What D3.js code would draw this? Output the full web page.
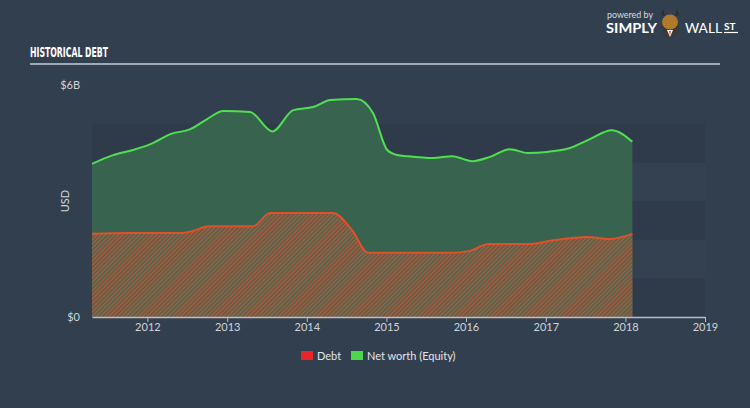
<!DOCTYPE html>
<html><head><meta charset="utf-8">
<script src="https://cdn.jsdelivr.net/npm/d3@7"></script>
<style>
html,body{margin:0;padding:0;background:#323f4f;}
svg{display:block;}
</style></head>
<body>
<svg id="c" width="750" height="408"></svg>
<script>
// ---- data ----
const equityDates = ["2011-04-22","2011-07-24","2011-10-27","2012-01-15","2012-04-16","2012-07-16","2012-10-01","2012-12-14","2013-04-16","2013-07-27","2013-10-31","2014-01-30","2014-04-20","2014-08-18","2014-11-01","2015-01-05","2015-02-20","2015-04-05","2015-08-03","2015-10-30","2016-01-30","2016-04-20","2016-07-20","2016-10-11","2017-01-07","2017-04-22","2017-07-22","2017-10-30","2018-02-02"];
const equityValues = [3.96,4.18,4.32,4.47,4.73,4.86,5.12,5.33,5.30,4.80,5.35,5.43,5.61,5.64,5.27,4.32,4.19,4.16,4.11,4.16,4.03,4.14,4.34,4.24,4.27,4.37,4.60,4.83,4.53];
const debtDates = ["2011-04-22","2011-10-01","2012-05-30","2012-07-24","2012-10-08","2013-05-01","2013-07-16","2014-05-01","2014-07-27","2014-10-09","2015-10-30","2016-01-19","2016-04-12","2016-10-22","2017-01-22","2017-07-09","2017-10-22","2018-02-02"];
const debtValues = [2.15,2.17,2.17,2.22,2.35,2.35,2.69,2.69,2.25,1.66,1.66,1.71,1.89,1.89,1.97,2.07,2.02,2.15];
const yTickValues = [0, 6];
const yTickLabels = ["$0", "$6B"];
const xTickYears = [2012,2013,2014,2015,2016,2017,2018,2019];
const legendItems = ["Debt","Net worth (Equity)"];

const parse = d3.timeParse("%Y-%m-%d");
const equity = equityDates.map((d,i)=>({date:parse(d), v:equityValues[i]}));
const debt = debtDates.map((d,i)=>({date:parse(d), v:debtValues[i]}));

const svg = d3.select("#c");
const x = d3.scaleTime().domain([parse("2011-04-22"), new Date(2019,0,1)]).range([92, 705]);
const y = d3.scaleLinear().domain([0, 6]).range([317, 85]);

// title
svg.append("text").attr("x",30).attr("y",57).attr("fill","#ffffff")
  .attr("font-family","'DejaVu Sans Condensed','Liberation Sans Narrow',sans-serif")
  .attr("font-weight","bold").attr("font-size",14).attr("textLength",78).attr("lengthAdjust","spacingAndGlyphs")
  .text("HISTORICAL DEBT");
svg.append("line").attr("x1",30).attr("x2",720).attr("y1",64).attr("y2",64)
  .attr("stroke","#c9ced6").attr("stroke-width",1.5);

// logo
const logo = svg.append("g");
logo.append("text").attr("x",607).attr("y",18).attr("fill","#d8dce2").attr("font-family","Lato, sans-serif").attr("font-size",9).attr("textLength",46).attr("lengthAdjust","spacingAndGlyphs").text("powered by");
logo.append("text").attr("x",606).attr("y",33).attr("fill","#ffffff").attr("font-family","Lato, sans-serif").attr("font-weight","bold").attr("font-size",14).attr("textLength",51).attr("lengthAdjust","spacingAndGlyphs").text("SIMPLY");
logo.append("circle").attr("cx",670).attr("cy",29).attr("r",9).attr("fill","#3a3a3a");
logo.append("ellipse").attr("cx",670).attr("cy",22).attr("rx",8).attr("ry",7.5).attr("fill","#b07a2c");
logo.append("path").attr("d","M661,15 L663,9 L665,16 Z M679,15 L677,9 L675,16 Z").attr("fill","#2d2d2d");
logo.append("path").attr("d","M667,30 L670,37 L673,30 Z").attr("fill","#ffffff");
logo.append("path").attr("d","M669,31 L670,36 L671,31 Z").attr("fill","#e0552a");
logo.append("text").attr("x",685).attr("y",33).attr("fill","#ffffff").attr("font-family","Lato, sans-serif").attr("font-size",14).attr("textLength",37).attr("lengthAdjust","spacingAndGlyphs").text("WALL");
logo.append("text").attr("x",724).attr("y",30).attr("fill","#ffffff").attr("font-family","Lato, sans-serif").attr("font-weight","bold").attr("font-size",10).text("ST");
logo.append("line").attr("x1",724).attr("x2",738).attr("y1",32.5).attr("y2",32.5).attr("stroke","#fff").attr("stroke-width",1.2);

// background bands
const bandVals = d3.range(0,5);
svg.append("g").selectAll("rect").data(bandVals).join("rect")
  .attr("x",92).attr("width",705-92)
  .attr("y",d=>y(d+1)).attr("height",d=>y(d)-y(d+1))
  .attr("fill",d=> d%2===0 ? "#2f3b4b" : "#344151");

// pattern
const defs = svg.append("defs");
const pat = defs.append("pattern").attr("id","hatch").attr("patternUnits","userSpaceOnUse")
  .attr("width",3).attr("height",3).attr("patternTransform","rotate(45)");
pat.append("rect").attr("width",3).attr("height",3).attr("fill","#3f6650");
pat.append("rect").attr("width",1.5).attr("height",3).attr("fill","#b8583a");

// equity area
const curve = d3.curveMonotoneX;
svg.append("path").datum(equity)
  .attr("d", d3.area().x(d=>x(d.date)).y0(y(0)).y1(d=>y(d.v)).curve(curve))
  .attr("fill","#37634f");
// debt area
svg.append("path").datum(debt)
  .attr("d", d3.area().x(d=>x(d.date)).y0(y(0)).y1(d=>y(d.v)).curve(curve))
  .attr("fill","url(#hatch)");
// lines
svg.append("path").datum(equity)
  .attr("d", d3.line().x(d=>x(d.date)).y(d=>y(d.v)).curve(curve))
  .attr("fill","none").attr("stroke","#4ee04e").attr("stroke-width",2);
svg.append("path").datum(debt)
  .attr("d", d3.line().x(d=>x(d.date)).y(d=>y(d.v)).curve(curve))
  .attr("fill","none").attr("stroke","#e0502a").attr("stroke-width",2);

// x axis
const xa = svg.append("g").attr("transform","translate(0,317)")
  .call(d3.axisBottom(x).tickValues(xTickYears.map(yy=>new Date(yy,0,1))).tickFormat(d3.timeFormat("%Y")).tickSize(5).tickSizeOuter(0));
xa.select(".domain").attr("stroke","#b8bec8").attr("stroke-width",1.5);
xa.selectAll(".tick line").attr("stroke","#b8bec8");
xa.selectAll(".tick text").attr("fill","#d0d4da").attr("font-family","Lato, sans-serif").attr("font-size",11).attr("dy","0.55em");

// y labels
svg.append("g").selectAll("text").data(yTickValues).join("text")
  .attr("x",80).attr("y",d=>y(d)+4).attr("text-anchor","end")
  .attr("fill","#d0d4da").attr("font-family","Lato, sans-serif").attr("font-size",11)
  .text((d,i)=>yTickLabels[i]);
svg.append("text").attr("transform","translate(69,201) rotate(-90)").attr("text-anchor","middle")
  .attr("fill","#d0d4da").attr("font-family","Lato, sans-serif").attr("font-size",11).text("USD");

// legend
const lg = svg.append("g");
const legendColors = ["#e8262a","#4cd84c"];
const legendX = [301, 351];
lg.selectAll("rect").data(legendItems).join("rect")
  .attr("x",(d,i)=>legendX[i]).attr("y",351).attr("width",12).attr("height",9)
  .attr("fill",(d,i)=>legendColors[i]);
lg.selectAll("text").data(legendItems).join("text")
  .attr("x",(d,i)=>legendX[i]+16).attr("y",360)
  .attr("fill","#e2e5ea").attr("font-family","Lato, sans-serif").attr("font-size",11)
  .text(d=>d);
</script>
</body></html>
